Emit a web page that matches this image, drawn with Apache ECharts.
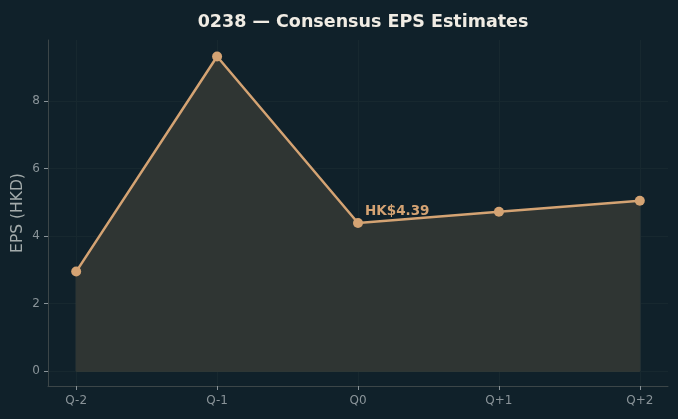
<!DOCTYPE html>
<html>
<head>
<meta charset="utf-8">
<script src="https://cdn.jsdelivr.net/npm/echarts@6/dist/echarts.min.js"></script>
<style>
  html, body { margin: 0; padding: 0; background: #10212a; }
  #chart { width: 678px; height: 419px; }
</style>
</head>
<body>
<div id="chart"></div>
<script>
// quarters and consensus EPS
var quarters = ['Q-2', 'Q-1', 'Q0', 'Q+1', 'Q+2'];
var eps = [2.95, 9.32, 4.39, 4.72, 5.05];
var yTicks = [0, 2, 4, 6, 8];
var currentIdx = 2; // Q0 gets the label

var chart = echarts.init(document.getElementById('chart'));

var points = eps.map(function (v, i) {
  var p = { value: [i, v] };
  if (i === currentIdx) {
    p.label = {
      show: true,
      position: [12, -13],
      formatter: 'HK$' + v.toFixed(2),
      color: '#d4a373',
      fontWeight: 'bold',
      fontSize: 13.5,
      fontFamily: 'DejaVu Sans'
    };
  }
  return p;
});

var last = eps.length - 1;
// edge of the filled region (sides + baseline)
var outline = [[last, eps[last]], [last, 0], [0, 0], [0, eps[0]]];

var option = {
  backgroundColor: '#10212a',
  animation: false,
  title: {
    text: '0238 — Consensus EPS Estimates',
    left: 358,
    textAlign: 'center',
    top: 8,
    textStyle: { color: '#f0ece4', fontSize: 17.5, fontWeight: 'bold', fontFamily: 'DejaVu Sans' }
  },
  grid: { left: 48, right: 10, top: 40, bottom: 33, outerBoundsMode: 'none', containLabel: false },
  xAxis: {
    type: 'value',
    min: -0.2,
    max: 4.2,
    axisLine: { onZero: false, lineStyle: { color: '#3c4648' } },
    axisTick: { customValues: [0, 1, 2, 3, 4], length: 4, lineStyle: { color: '#8a9499' } },
    axisLabel: {
      customValues: [0, 1, 2, 3, 4],
      formatter: function (v) { return quarters[Math.round(v)]; },
      color: '#8a9499', fontSize: 12, fontFamily: 'DejaVu Sans', margin: 9
    },
    splitLine: { show: true, lineStyle: { color: '#17282f', width: 1 } }
  },
  yAxis: {
    type: 'value',
    min: -0.44,
    max: 9.81,
    name: 'EPS (HKD)',
    nameLocation: 'middle',
    nameGap: 22,
    nameMoveOverlap: false,
    nameTextStyle: { color: '#a3abab', fontSize: 15.5, fontFamily: 'DejaVu Sans' },
    axisLine: { show: true, onZero: false, lineStyle: { color: '#3c4648' } },
    axisTick: { show: true, customValues: yTicks, length: 4, lineStyle: { color: '#8a9499' } },
    axisLabel: {
      customValues: yTicks,
      color: '#8a9499', fontSize: 12, fontFamily: 'DejaVu Sans', margin: 8
    },
    splitLine: { show: true, lineStyle: { color: '#17282f', width: 1 } }
  },
  series: [{
    type: 'line',
    data: points,
    symbol: 'circle',
    symbolSize: 10,
    itemStyle: { color: '#d4a373' },
    lineStyle: { color: '#d4a373', width: 2.5 },
    areaStyle: { color: '#2f3533', opacity: 1, origin: 0 },
    z: 3
  }, {
    type: 'line',
    data: outline,
    symbol: 'none',
    lineStyle: { color: '#3d423d', width: 1 },
    silent: true,
    z: 2
  }]
};

chart.setOption(option);
</script>
</body>
</html>
